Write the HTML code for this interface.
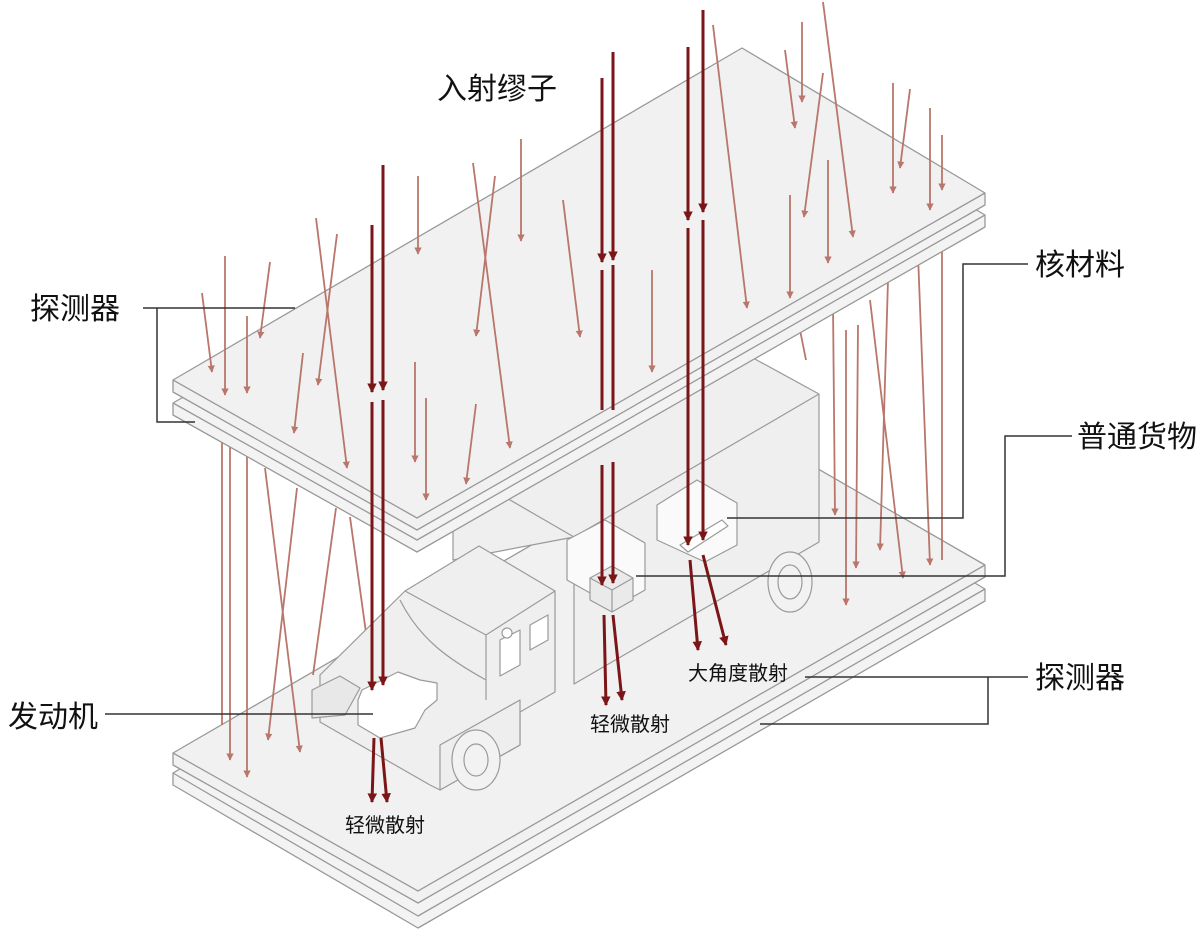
<!DOCTYPE html>
<html><head><meta charset="utf-8"><style>
html,body{margin:0;padding:0;background:#fff}
svg{display:block}
text{font-family:"Liberation Sans","Noto Sans CJK SC",sans-serif;fill:#111}
</style></head><body>
<svg width="1200" height="933" viewBox="0 0 1200 933" xmlns="http://www.w3.org/2000/svg">
<defs>
<marker id="al" viewBox="0 0 10 10" refX="9" refY="5" markerWidth="4" markerHeight="4" orient="auto"><path d="M0,0L10,5L0,10z" fill="#b9766a"/></marker>
<marker id="ad" viewBox="0 0 10 10" refX="9" refY="5" markerWidth="3.2" markerHeight="3.2" orient="auto"><path d="M0,0L10,5L0,10z" fill="#7a1518"/></marker>
</defs>
<g stroke="#999" stroke-width="1.3" stroke-linejoin="round">
<path d="M173,773 L740,444 L985,589 L985,601 L418,928 L173,785 Z" fill="#f3f3f3"/>
<path d="M173,773 L418,916 L985,589" fill="none"/>
<path d="M173,753 L740,424 L985,565 L985,577 L418,903 L173,765 Z" fill="#f1f1f1"/>
<path d="M173,753 L418,891 L985,565" fill="none"/>
</g>
<g stroke="#b9766a" stroke-width="1.8" fill="none" marker-end="url(#al)">
<line x1="222" y1="440" x2="222" y2="725" marker-end="none"/>
<line x1="230" y1="447" x2="230" y2="760"/>
<line x1="247" y1="457" x2="247" y2="777"/>
<line x1="265" y1="468" x2="300" y2="752"/>
<line x1="297" y1="488" x2="268" y2="740"/>
<line x1="336" y1="508" x2="313" y2="675" marker-end="none"/>
<line x1="350" y1="517" x2="367" y2="640" marker-end="none"/>
</g>
<g stroke="#9a9a9a" stroke-width="1.2" fill="#efefef" stroke-linejoin="round">
<path d="M453,467 L700,329 L819,394 L819,542 L574,684 L574,537 L453,560 Z"/>
<path d="M453,467 L574,537 L819,394" fill="none"/>
<ellipse cx="790" cy="582" rx="22" ry="30" fill="#f2f2f2"/>
<ellipse cx="790" cy="582" rx="12" ry="17" fill="none"/>
<path d="M320,675 L405,591 L479,546 L555,591 L555,692 L520,712 L520,745 L440,790 L430,785 L320,722 Z"/>
<path d="M405,591 L486,635 L555,591 M486,635 L486,700 M400,600 C420,640 450,660 486,680" fill="none"/>
<path d="M500,640 L520,630 L520,665 L500,676Z M530,625 L548,615 L548,640 L530,650Z" fill="#fff"/>
<circle cx="507" cy="633" r="5" fill="#fff"/>
<path d="M440,745 L520,700 L520,745 L440,790Z" fill="#eee"/>
<ellipse cx="476" cy="760" rx="24" ry="30" fill="#f2f2f2"/>
<ellipse cx="476" cy="760" rx="12" ry="16" fill="none"/>
<path d="M312,690 L340,676 L360,688 L345,715 L312,718 Z" fill="#e8e8e8"/>
<path d="M362,690 L398,672 L420,680 L437,683 L437,700 L425,710 L415,728 L380,738 L358,725 L358,700 Z" fill="#fff"/>
<path d="M567,540 L605,520 L645,543 L645,590 L615,607 L567,580 Z" fill="#fafafa"/>
<path d="M590,578 L612,566 L633,578 L633,600 L612,612 L590,600 Z" fill="#eaeaea"/>
<path d="M590,578 L612,590 L633,578 M612,590 L612,612" fill="none"/>
<path d="M657,505 L697,480 L737,503 L737,545 L705,562 L657,540 Z" fill="#fafafa"/>
<path d="M680,545 L722,520 L728,526 L688,552 Z" fill="#fff"/>
</g>
<g stroke="#b9766a" stroke-width="1.8" fill="none" marker-end="url(#al)">
<line x1="833" y1="305" x2="835" y2="515"/>
<line x1="846" y1="330" x2="846" y2="605"/>
<line x1="858" y1="325" x2="856" y2="568"/>
<line x1="888" y1="280" x2="880" y2="550"/>
<line x1="870" y1="300" x2="903" y2="578"/>
<line x1="918" y1="255" x2="930" y2="565"/>
<line x1="942" y1="250" x2="942" y2="560" marker-end="none"/>
<line x1="800" y1="330" x2="806" y2="360" marker-end="none"/>
</g>
<g stroke="#999" stroke-width="1.3" stroke-linejoin="round">
<path d="M173,403 L742,72 L985,215 L985,227 L417,552 L173,415 Z" fill="#f3f3f3"/>
<path d="M173,403 L417,540 L985,215" fill="none"/>
<path d="M173,380 L742,48 L985,193 L985,205 L417,530 L173,392 Z" fill="#f1f1f1"/>
<path d="M173,380 L417,518 L985,193" fill="none"/>
</g>
<g stroke="#b9766a" stroke-width="1.8" fill="none" marker-end="url(#al)">
<line x1="202" y1="293" x2="212" y2="372"/>
<line x1="225" y1="256" x2="225" y2="395"/>
<line x1="247" y1="316" x2="247" y2="393"/>
<line x1="270" y1="262" x2="260" y2="338"/>
<line x1="303" y1="353" x2="294" y2="433"/>
<line x1="316" y1="218" x2="347" y2="468"/>
<line x1="337" y1="234" x2="318" y2="385"/>
<line x1="418" y1="176" x2="418" y2="254"/>
<line x1="415" y1="362" x2="415" y2="462"/>
<line x1="426" y1="398" x2="426" y2="500"/>
<line x1="476" y1="404" x2="466" y2="484"/>
<line x1="473" y1="163" x2="510" y2="448"/>
<line x1="495" y1="176" x2="476" y2="336"/>
<line x1="521" y1="139" x2="521" y2="241"/>
<line x1="563" y1="200" x2="580" y2="337"/>
<line x1="652" y1="270" x2="652" y2="372"/>
<line x1="713" y1="25" x2="747" y2="308"/>
<line x1="785" y1="50" x2="795" y2="128"/>
<line x1="802" y1="22" x2="802" y2="102"/>
<line x1="823" y1="2" x2="853" y2="237"/>
<line x1="823" y1="73" x2="804" y2="217"/>
<line x1="828" y1="160" x2="828" y2="263"/>
<line x1="790" y1="195" x2="790" y2="298"/>
<line x1="893" y1="83" x2="893" y2="193"/>
<line x1="910" y1="89" x2="900" y2="168"/>
<line x1="930" y1="108" x2="930" y2="210"/>
<line x1="942" y1="135" x2="942" y2="190"/>
</g>
<g stroke="#7a1518" stroke-width="3" fill="none" marker-end="url(#ad)">
<line x1="372" y1="225" x2="372" y2="392"/>
<line x1="383" y1="165" x2="383" y2="390"/>
<line x1="372" y1="402" x2="372" y2="690"/>
<line x1="383" y1="400" x2="383" y2="685"/>
<line x1="374" y1="738" x2="372" y2="802"/>
<line x1="381" y1="738" x2="387" y2="802"/>
<line x1="602" y1="78" x2="602" y2="262"/>
<line x1="613" y1="52" x2="613" y2="260"/>
<line x1="602" y1="270" x2="602" y2="410" marker-end="none"/>
<line x1="613" y1="265" x2="613" y2="410" marker-end="none"/>
<line x1="602" y1="465" x2="602" y2="585"/>
<line x1="613" y1="462" x2="613" y2="583"/>
<line x1="604" y1="615" x2="606" y2="705"/>
<line x1="613" y1="615" x2="622" y2="700"/>
<line x1="688" y1="47" x2="688" y2="220"/>
<line x1="703" y1="10" x2="703" y2="212"/>
<line x1="688" y1="228" x2="688" y2="545"/>
<line x1="703" y1="220" x2="703" y2="540"/>
<line x1="690" y1="560" x2="698" y2="650"/>
<line x1="703" y1="555" x2="726" y2="645"/>
</g>
<g stroke="#333" stroke-width="1.5" fill="none">
<path d="M143,308 L295,308 M157,308 L157,422 L195,422"/>
<path d="M1028,264 L963,264 L963,518 L727,518"/>
<path d="M1072,436 L1005,436 L1005,576 L636,576"/>
<path d="M1028,677 L805,677 M988,677 L988,724 L760,724"/>
<path d="M105,714 L373,714"/>
</g>
<g font-size="30">
<text x="437" y="99">入射缪子</text>
<text x="30" y="319">探测器</text>
<text x="1035" y="275">核材料</text>
<text x="1077" y="447">普通货物</text>
<text x="1035" y="688">探测器</text>
<text x="8" y="727">发动机</text>
</g>
<g font-size="20">
<text x="688" y="680">大角度散射</text>
<text x="590" y="731">轻微散射</text>
<text x="345" y="832">轻微散射</text>
</g>
</svg>
</body></html>
